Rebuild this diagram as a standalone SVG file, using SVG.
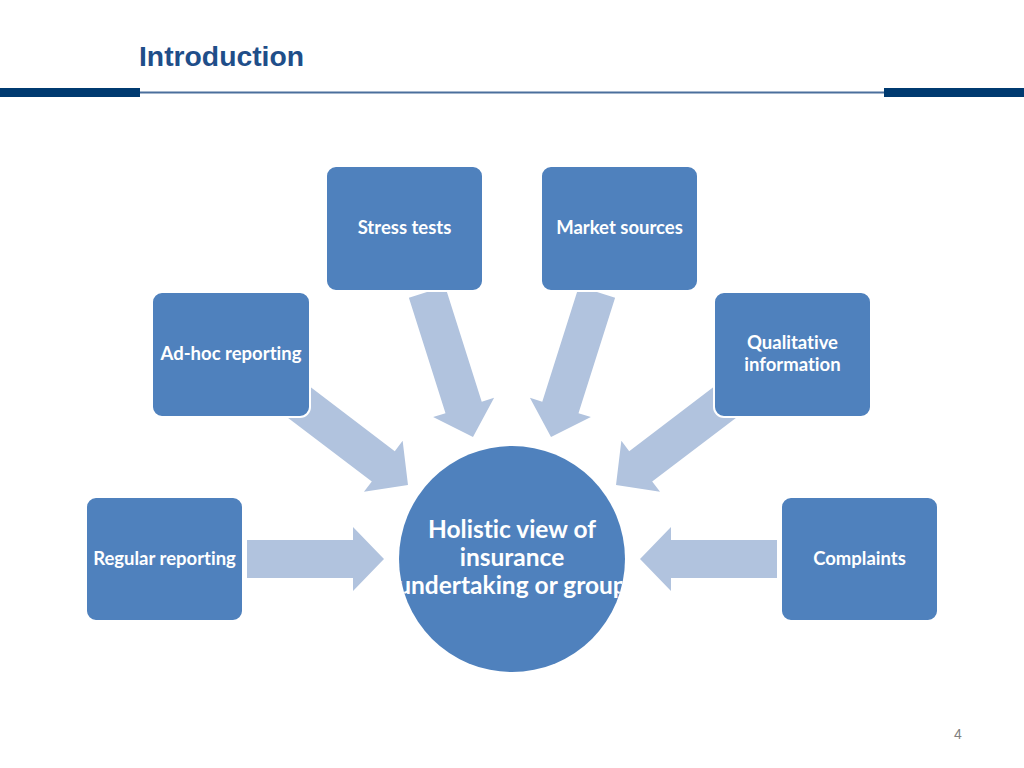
<svg xmlns="http://www.w3.org/2000/svg" xmlns:xlink="http://www.w3.org/1999/xlink" width="1024" height="768" viewBox="0 0 1024 768">
<style>
.box{fill:#4f81bd;stroke:#ffffff;stroke-width:2}
.arr{fill:#b1c3de}
.lbl{font-family:Lato,"Open Sans","Liberation Sans",sans-serif;font-weight:bold;font-size:18.5px;fill:#ffffff;text-anchor:middle;font-variant-ligatures:none}
.big{font-size:24.5px}
</style>
<defs>
<path id="arrH" d="M0,-19 H106 V-32 L137,0 L106,32 V19 H0 Z"/>
<path id="arrD1" d="M0,-19 H109.6 V-32 L140.6,0 L109.6,32 V19 H0 Z"/>
<path id="arrD2" d="M0,-19 H121.1 V-32 L152.1,0 L121.1,32 V19 H0 Z"/>
</defs>
<rect width="1024" height="768" fill="#ffffff"/>
<g id="header">
<text x="139" y="66" font-family="Liberation Sans,Arial,sans-serif" font-weight="bold" font-size="28" fill="#1f4e89" textLength="165" lengthAdjust="spacingAndGlyphs">Introduction</text>
<rect x="0" y="88" width="140" height="9" fill="#003a70"/>
<rect x="140" y="91.5" width="744" height="2" fill="#4b6f9c"/>
<rect x="884" y="88" width="140" height="9" fill="#003a70"/>
</g>
<g id="connectors" class="arr">
<use href="#arrH" transform="translate(247,559)"/>
<use href="#arrH" transform="translate(777,559) scale(-1,1)"/>
<use href="#arrD1" transform="translate(296,400) rotate(37.2)"/>
<use href="#arrD1" transform="translate(728,400) scale(-1,1) rotate(37.2)"/>
<use href="#arrD2" transform="translate(427,292) rotate(72.4)"/>
<use href="#arrD2" transform="translate(597,292) scale(-1,1) rotate(72.4)"/>
</g>
<g id="stress-tests">
<rect class="box" x="326" y="166" width="157" height="125" rx="10"/>
<text class="lbl" x="404.5" y="234">Stress tests</text>
</g>
<g id="market-sources">
<rect class="box" x="541" y="166" width="157" height="125" rx="10"/>
<text class="lbl" x="619.5" y="234">Market sources</text>
</g>
<g id="ad-hoc-reporting">
<rect class="box" x="152" y="292" width="158" height="125" rx="10"/>
<text class="lbl" x="231" y="360">Ad-hoc reporting</text>
</g>
<g id="qualitative-information">
<rect class="box" x="714" y="292" width="157" height="125" rx="10"/>
<text class="lbl" x="792.5" y="349">Qualitative</text>
<text class="lbl" x="792.5" y="371">information</text>
</g>
<g id="regular-reporting">
<rect class="box" x="86" y="497" width="157" height="124" rx="10"/>
<text class="lbl" x="164.5" y="565">Regular reporting</text>
</g>
<g id="complaints">
<rect class="box" x="781" y="497" width="157" height="124" rx="10"/>
<text class="lbl" x="859.5" y="565">Complaints</text>
</g>
<g id="holistic-view">
<clipPath id="cc"><circle cx="512" cy="559" r="113"/></clipPath>
<circle cx="512" cy="559" r="113" fill="#4f81bd"/>
<g clip-path="url(#cc)">
<text class="lbl big" x="512" y="538">Holistic view of</text>
<text class="lbl big" x="512" y="566">insurance</text>
<text class="lbl big" x="512" y="594">undertaking or group</text>
</g>
</g>
<text x="958" y="739" font-family="Liberation Sans,Arial,sans-serif" font-size="14" fill="#808080" text-anchor="middle">4</text>
</svg>
